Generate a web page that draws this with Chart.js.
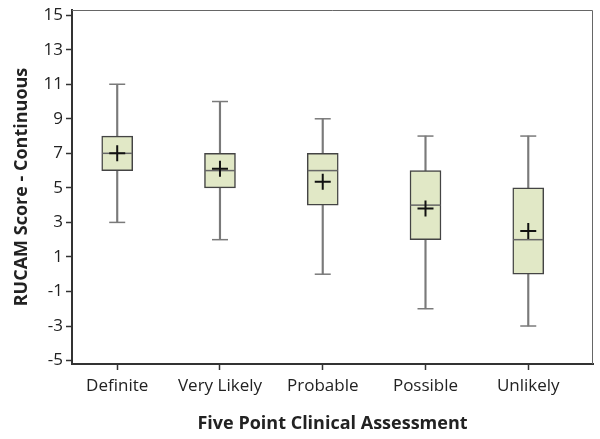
<!DOCTYPE html>
<html>
<head>
<meta charset="utf-8">
<script src="https://cdn.jsdelivr.net/npm/chart.js@4.4.1/dist/chart.umd.min.js"></script>
<style>
  html, body { margin: 0; padding: 0; background: #fff; }
  #wrap { width: 600px; height: 439px; }
</style>
</head>
<body>
<div id="wrap"><canvas id="boxChart"></canvas></div>
<script>
// Données
const categories = ['Definite', 'Very Likely', 'Probable', 'Possible', 'Unlikely'];
const whiskerLow = [3, 2, 0, -2, -3];
const quartile1 = [6, 5, 4, 2, 0];
const medians = [7, 6, 6, 4, 2];
const quartile3 = [8, 7, 7, 6, 5];
const whiskerHigh = [11, 10, 9, 8, 8];
const means = [7.0, 6.1, 5.35, 3.8, 2.5];
const yTicks = [-5, -3, -1, 1, 3, 5, 7, 9, 11, 13, 15];

const pos = categories.map((c, i) => i + 1);
const fontFamily = "'Open Sans', 'DejaVu Sans', sans-serif";

// Cadre fin en haut et à droite
const framePlugin = {
    id: 'frame',
    afterDraw(chart) {
        const { ctx, chartArea: a } = chart;
        ctx.save();
        ctx.strokeStyle = '#666';
        ctx.lineWidth = 1;
        ctx.beginPath();
        ctx.moveTo(a.left, a.top + 0.5);
        ctx.lineTo(a.right - 0.5, a.top + 0.5);
        ctx.lineTo(a.right - 0.5, a.bottom);
        ctx.stroke();
        ctx.restore();
    }
};

const chart = new Chart(document.getElementById('boxChart'), {
    type: 'bar',
    data: {
        datasets: [
            {
                // moustaches (ligne verticale)
                type: 'bar',
                data: pos.map((x, i) => ({ x: x, y: [whiskerLow[i], whiskerHigh[i]] })),
                backgroundColor: '#7a7a7a',
                borderWidth: 0,
                barThickness: 1.5,
                grouped: false,
                order: 5
            },
            {
                // boîtes Q1-Q3
                type: 'bar',
                data: pos.map((x, i) => ({ x: x, y: [quartile1[i], quartile3[i]] })),
                backgroundColor: '#e1e8c6',
                borderColor: '#444',
                borderWidth: 1.5,
                borderSkipped: false,
                barThickness: 31,
                grouped: false,
                order: 4
            },
            {
                // extrémités des moustaches
                type: 'scatter',
                data: pos.flatMap((x, i) => [{ x: x, y: whiskerLow[i] }, { x: x, y: whiskerHigh[i] }]),
                pointStyle: 'line',
                radius: 8,
                borderColor: '#7a7a7a',
                borderWidth: 1.5,
                order: 3
            },
            {
                // médianes
                type: 'scatter',
                data: pos.map((x, i) => ({ x: x, y: medians[i] })),
                pointStyle: 'line',
                radius: 15,
                borderColor: '#666',
                borderWidth: 1.5,
                order: 2
            },
            {
                // moyennes
                type: 'scatter',
                data: pos.map((x, i) => ({ x: x, y: means[i] })),
                pointStyle: 'cross',
                radius: 8,
                borderColor: '#111',
                borderWidth: 2,
                order: 1
            }
        ]
    },
    options: {
        responsive: true,
        maintainAspectRatio: false,
        animation: false,
        layout: {
            autoPadding: false,
            padding: { top: 10, right: 7, left: 0, bottom: 0 }
        },
        plugins: {
            legend: { display: false },
            tooltip: { enabled: false }
        },
        scales: {
            x: {
                type: 'linear',
                min: 0.56,
                max: 5.63,
                offset: false,
                afterBuildTicks: (scale) => {
                    scale.ticks = pos.map(v => ({ value: v }));
                },
                afterFit: (scale) => {
                    scale.height = 75;
                    scale.paddingLeft = 0;
                    scale.paddingRight = 0;
                },
                ticks: {
                    autoSkip: false,
                    maxRotation: 0,
                    padding: 6,
                    color: '#222',
                    font: { family: fontFamily, size: 17 },
                    callback: (v) => categories[v - 1]
                },
                grid: {
                    offset: false,
                    drawOnChartArea: false,
                    tickLength: 6,
                    tickWidth: 1.5,
                    tickColor: '#333'
                },
                border: { display: true, color: '#333', width: 2 },
                title: {
                    display: true,
                    text: 'Five Point Clinical Assessment',
                    color: '#222',
                    font: { family: fontFamily, size: 18, weight: 'bold' },
                    padding: { top: 0, bottom: 4 }
                }
            },
            y: {
                min: -5.2,
                max: 15.3,
                afterBuildTicks: (scale) => {
                    scale.ticks = yTicks.map(v => ({ value: v }));
                },
                afterFit: (scale) => {
                    scale.width = 72;
                    scale.paddingTop = 0;
                    scale.paddingBottom = 0;
                },
                ticks: {
                    padding: 3,
                    color: '#222',
                    font: { family: fontFamily, size: 17 }
                },
                grid: {
                    drawOnChartArea: false,
                    tickLength: 6,
                    tickWidth: 1.5,
                    tickColor: '#333'
                },
                border: { display: true, color: '#333', width: 2 },
                title: {
                    display: true,
                    text: 'RUCAM Score - Continuous',
                    color: '#222',
                    font: { family: fontFamily, size: 18, weight: 'bold' },
                    padding: { top: 11, bottom: 0 }
                }
            }
        }
    },
    plugins: [framePlugin]
});
</script>
</body>
</html>
